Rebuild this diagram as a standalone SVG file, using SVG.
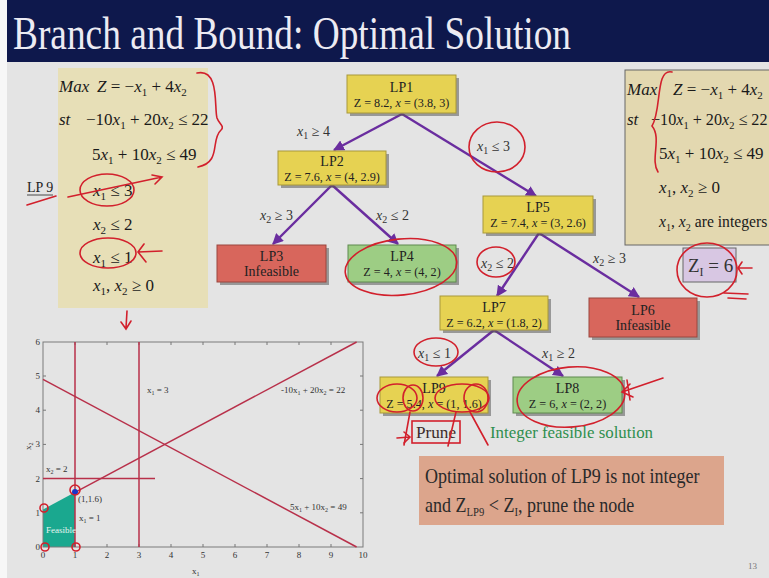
<svg xmlns="http://www.w3.org/2000/svg" width="769" height="578" viewBox="0 0 769 578">
<defs>
<marker id="ah" viewBox="0 0 10 10" refX="9" refY="5" markerWidth="11" markerHeight="11" markerUnits="userSpaceOnUse" orient="auto"><path d="M0,0 L10,5 L0,10 z" fill="#6a2d9f"/></marker>
</defs>
<style>
.serif{font-family:"Liberation Serif","Times New Roman",serif}
.eq{font-family:"Liberation Serif",serif;font-size:17px;fill:#1a1a1a}
.i{font-style:italic}
.s{font-size:11px}
.nt{font-family:"Liberation Serif",serif;font-size:14px;fill:#222;text-anchor:middle}
.nz{font-family:"Liberation Serif",serif;font-size:12.2px;fill:#222;text-anchor:middle}
.el{font-family:"Liberation Serif",serif;font-size:14px;fill:#333}
.es{font-size:10px}
.sh{fill:#5a5a5a;opacity:0.55}
.ny{fill:#e6d252;stroke:#a8983a;stroke-width:1}
.nr{fill:#d8665c;stroke:#9a463e;stroke-width:1}
.ng{fill:#9dcd84;stroke:#5f8a4f;stroke-width:1}
.edge{stroke:#6a2d9f;stroke-width:2.4;fill:none;marker-end:url(#ah)}
.gl{stroke:#b8304a;stroke-width:1.5;fill:none}
.gt{font-family:"Liberation Serif",serif;font-size:9px;fill:#333}
.tk{stroke:#777;stroke-width:1}
.rd{stroke:#d2202c;stroke-width:1.6;fill:none;stroke-linecap:round}
</style>

<!-- background -->
<rect x="0" y="0" width="769" height="578" fill="#e4e4e4"/>
<rect x="0" y="0" width="7" height="578" fill="#f7f7f7"/>
<rect x="7" y="0" width="762" height="62" fill="#0e184c"/>
<text class="serif" x="13" y="49" font-size="46" fill="#ecebf3" textLength="558" lengthAdjust="spacingAndGlyphs">Branch and Bound: Optimal Solution</text>

<!-- left constraint box -->
<g id="lp9-constraints">
<rect x="58" y="68" width="150" height="240" fill="#e7dfb7"/>
<text class="eq i" x="59" y="92">Max</text>
<text class="eq" x="97" y="92"><tspan class="i">Z</tspan> = −<tspan class="i">x</tspan><tspan class="s" dy="4">1</tspan><tspan dy="-4"> + 4</tspan><tspan class="i">x</tspan><tspan class="s" dy="4">2</tspan></text>
<text class="eq i" x="59" y="125">st</text>
<text class="eq" x="86" y="125">−10<tspan class="i">x</tspan><tspan class="s" dy="4">1</tspan><tspan dy="-4"> + 20</tspan><tspan class="i">x</tspan><tspan class="s" dy="4">2</tspan><tspan dy="-4"> ≤ 22</tspan></text>
<text class="eq" x="92" y="160">5<tspan class="i">x</tspan><tspan class="s" dy="4">1</tspan><tspan dy="-4"> + 10</tspan><tspan class="i">x</tspan><tspan class="s" dy="4">2</tspan><tspan dy="-4"> ≤ 49</tspan></text>
<text class="eq" x="93" y="196"><tspan class="i">x</tspan><tspan class="s" dy="4">1</tspan><tspan dy="-4"> ≤ 3</tspan></text>
<text class="eq" x="93" y="230"><tspan class="i">x</tspan><tspan class="s" dy="4">2</tspan><tspan dy="-4"> ≤ 2</tspan></text>
<text class="eq" x="93" y="263"><tspan class="i">x</tspan><tspan class="s" dy="4">1</tspan><tspan dy="-4"> ≤ 1</tspan></text>
<text class="eq" x="93" y="291"><tspan class="i">x</tspan><tspan class="s" dy="4">1</tspan><tspan dy="-4">, </tspan><tspan class="i">x</tspan><tspan class="s" dy="4">2</tspan><tspan dy="-4"> ≥ 0</tspan></text>
</g>
<g id="lp9-label">
<text class="serif" x="27" y="192" font-size="14" fill="#222">LP 9</text>
<line x1="27" y1="195" x2="53" y2="195" stroke="#222" stroke-width="0.8"/>
</g>

<!-- right box -->
<g id="ip-problem">
<rect x="625" y="70" width="150" height="175" fill="#e3d8b0" stroke="#666" stroke-width="1"/>
<text class="eq i" x="627" y="95">Max</text>
<text class="eq" x="673" y="95"><tspan class="i">Z</tspan> = −<tspan class="i">x</tspan><tspan class="s" dy="4">1</tspan><tspan dy="-4"> + 4</tspan><tspan class="i">x</tspan><tspan class="s" dy="4">2</tspan></text>
<text class="eq i" x="627" y="125">st</text>
<g transform="translate(651,125) scale(0.95,1)">
<text class="eq" x="0" y="0">−10<tspan class="i">x</tspan><tspan class="s" dy="4">1</tspan><tspan dy="-4"> + 20</tspan><tspan class="i">x</tspan><tspan class="s" dy="4">2</tspan><tspan dy="-4"> ≤ 22</tspan></text>
</g>
<text class="eq" x="659" y="159">5<tspan class="i">x</tspan><tspan class="s" dy="4">1</tspan><tspan dy="-4"> + 10</tspan><tspan class="i">x</tspan><tspan class="s" dy="4">2</tspan><tspan dy="-4"> ≤ 49</tspan></text>
<text class="eq" x="659" y="193"><tspan class="i">x</tspan><tspan class="s" dy="4">1</tspan><tspan dy="-4">, </tspan><tspan class="i">x</tspan><tspan class="s" dy="4">2</tspan><tspan dy="-4"> ≥ 0</tspan></text>
<g transform="translate(659,227) scale(0.92,1)">
<text class="eq" x="0" y="0"><tspan class="i">x</tspan><tspan class="s" dy="4">1</tspan><tspan dy="-4">, </tspan><tspan class="i">x</tspan><tspan class="s" dy="4">2</tspan><tspan dy="-4"> are integers</tspan></text>
</g>
</g>

<g id="zi">
<rect x="683" y="248" width="53" height="34" fill="#d8c7e3" stroke="#666" stroke-width="1"/>
<text class="serif" x="688" y="272" font-size="19" fill="#333">Z<tspan font-size="12" dy="4">I</tspan><tspan dy="-4"> = 6</tspan></text>
</g>

<!-- connectors -->
<g id="connectors">
<path class="edge" d="M402,114 L334,150"/>
<path class="edge" d="M402,114 L536,196"/>
<path class="edge" d="M332,185 L273,244"/>
<path class="edge" d="M332,185 L398,244"/>
<path class="edge" d="M539,233 L497,296"/>
<path class="edge" d="M539,233 L639,297"/>
<path class="edge" d="M494,330 L437,376"/>
<path class="edge" d="M494,330 L563,376"/>
<text class="el" x="297" y="136"><tspan class="i">x</tspan><tspan class="es" dy="3">1</tspan><tspan dy="-3"> ≥ 4</tspan></text>
<text class="el" x="477" y="151"><tspan class="i">x</tspan><tspan class="es" dy="3">1</tspan><tspan dy="-3"> ≤ 3</tspan></text>
<text class="el" x="260" y="220"><tspan class="i">x</tspan><tspan class="es" dy="3">2</tspan><tspan dy="-3"> ≥ 3</tspan></text>
<text class="el" x="376" y="220"><tspan class="i">x</tspan><tspan class="es" dy="3">2</tspan><tspan dy="-3"> ≤ 2</tspan></text>
<text class="el" x="481" y="268"><tspan class="i">x</tspan><tspan class="es" dy="3">2</tspan><tspan dy="-3"> ≤ 2</tspan></text>
<text class="el" x="593" y="263"><tspan class="i">x</tspan><tspan class="es" dy="3">2</tspan><tspan dy="-3"> ≥ 3</tspan></text>
<text class="el" x="418" y="358"><tspan class="i">x</tspan><tspan class="es" dy="3">1</tspan><tspan dy="-3"> ≤ 1</tspan></text>
<text class="el" x="542" y="358"><tspan class="i">x</tspan><tspan class="es" dy="3">1</tspan><tspan dy="-3"> ≥ 2</tspan></text>
</g>

<!-- nodes -->
<g id="lp1">
<rect class="sh" x="350" y="78" width="109" height="38"/>
<rect class="ny" x="347" y="75" width="109" height="38"/>
<text class="nt" x="401.5" y="92">LP1</text>
<text class="nz" x="401.5" y="107">Z = 8.2, <tspan class="i">x</tspan> = (3.8, 3)</text>
</g>
<g id="lp2">
<rect class="sh" x="281" y="154" width="108" height="34"/>
<rect class="ny" x="278" y="151" width="108" height="34"/>
<text class="nt" x="332" y="166">LP2</text>
<text class="nz" x="332" y="181">Z = 7.6, <tspan class="i">x</tspan> = (4, 2.9)</text>
</g>
<g id="lp3">
<rect class="sh" x="220" y="248" width="109" height="37"/>
<rect class="nr" x="217" y="245" width="109" height="37"/>
<text class="nt" x="271.5" y="261">LP3</text>
<text class="nt" x="271.5" y="276">Infeasible</text>
</g>
<g id="lp4">
<rect class="sh" x="351" y="248" width="108" height="37"/>
<rect class="ng" x="348" y="245" width="108" height="37"/>
<text class="nt" x="402" y="261">LP4</text>
<text class="nz" x="402" y="276">Z = 4, <tspan class="i">x</tspan> = (4, 2)</text>
</g>
<g id="lp5">
<rect class="sh" x="486" y="199" width="110" height="37"/>
<rect class="ny" x="483" y="196" width="110" height="37"/>
<text class="nt" x="538" y="212">LP5</text>
<text class="nz" x="538" y="227">Z = 7.4, <tspan class="i">x</tspan> = (3, 2.6)</text>
</g>
<g id="lp6">
<rect class="sh" x="592" y="301" width="108" height="39"/>
<rect class="nr" x="589" y="298" width="108" height="39"/>
<text class="nt" x="643" y="315">LP6</text>
<text class="nt" x="643" y="330">Infeasible</text>
</g>
<g id="lp7">
<rect class="sh" x="443" y="299" width="108" height="34"/>
<rect class="ny" x="440" y="296" width="108" height="34"/>
<text class="nt" x="494" y="312">LP7</text>
<text class="nz" x="494" y="327">Z = 6.2, <tspan class="i">x</tspan> = (1.8, 2)</text>
</g>
<g id="lp9">
<rect class="sh" x="383" y="380" width="108" height="36"/>
<rect class="ny" x="380" y="377" width="108" height="36"/>
<text class="nt" x="434" y="393">LP9</text>
<text class="nz" x="434" y="408">Z = 5.4, <tspan class="i">x</tspan> = (1, 1.6)</text>
</g>
<g id="lp8">
<rect class="sh" x="516" y="380" width="109" height="36"/>
<rect class="ng" x="513" y="377" width="109" height="36"/>
<text class="nt" x="567.5" y="393">LP8</text>
<text class="nz" x="567.5" y="408">Z = 6, <tspan class="i">x</tspan> = (2, 2)</text>
</g>

<g id="notes">
<text class="serif" x="416" y="438" font-size="17" fill="#3a2a2a" textLength="40" lengthAdjust="spacingAndGlyphs">Prune</text>
<text class="serif" x="490" y="438" font-size="17" fill="#2f8f4e" textLength="163" lengthAdjust="spacingAndGlyphs">Integer feasible solution</text>
</g>

<g id="conclusion">
<rect x="419" y="456" width="305" height="69" fill="#dca58c"/>
<g transform="translate(425,0) scale(0.82,1)">
<text class="serif" x="0" y="483" font-size="22" fill="#2a2a2a">Optimal solution of LP9 is not integer</text>
<text class="serif" x="0" y="512" font-size="22" fill="#2a2a2a">and Z<tspan font-size="13" dy="4">LP9</tspan><tspan dy="-4"> &lt; Z</tspan><tspan font-size="13" dy="4">I</tspan><tspan dy="-4">, prune the node</tspan></text>
</g>
</g>

<!-- graph -->
<g id="graph">
<polygon points="43,547 75,547 75,492.3 43,509.4" fill="#1aa88f"/>
<rect x="43" y="342" width="320" height="205" fill="none" stroke="#7a7a7a" stroke-width="1"/>
<path class="tk" d="M75,547v-3M107,547v-3M139,547v-3M171,547v-3M203,547v-3M235,547v-3M267,547v-3M299,547v-3M331,547v-3M75,342v3M107,342v3M139,342v3M171,342v3M203,342v3M235,342v3M267,342v3M299,342v3M331,342v3M43,512.8h3M43,478.6h3M43,444.4h3M43,410.2h3M43,376h3M363,512.8h-3M363,478.6h-3M363,444.4h-3M363,410.2h-3M363,376h-3"/>
<line class="gl" x1="75" y1="342" x2="75" y2="547"/>
<line class="gl" x1="139" y1="342" x2="139" y2="547"/>
<line class="gl" x1="43" y1="478.6" x2="155" y2="478.6"/>
<line class="gl" x1="75" y1="492.3" x2="356.6" y2="342"/>
<line class="gl" x1="43" y1="379.4" x2="356.6" y2="547"/>
<circle cx="75" cy="492" r="3" fill="#1a35c8"/>
<g class="gt">
<text x="43" y="558" text-anchor="middle">0</text>
<text x="75" y="558" text-anchor="middle">1</text>
<text x="107" y="558" text-anchor="middle">2</text>
<text x="139" y="558" text-anchor="middle">3</text>
<text x="171" y="558" text-anchor="middle">4</text>
<text x="203" y="558" text-anchor="middle">5</text>
<text x="235" y="558" text-anchor="middle">6</text>
<text x="267" y="558" text-anchor="middle">7</text>
<text x="299" y="558" text-anchor="middle">8</text>
<text x="331" y="558" text-anchor="middle">9</text>
<text x="363" y="558" text-anchor="middle">10</text>
<text x="40" y="550" text-anchor="end">0</text>
<text x="40" y="516" text-anchor="end">1</text>
<text x="40" y="482" text-anchor="end">2</text>
<text x="40" y="447" text-anchor="end">3</text>
<text x="40" y="413" text-anchor="end">4</text>
<text x="40" y="379" text-anchor="end">5</text>
<text x="40" y="345" text-anchor="end">6</text>
<text x="192" y="574">x<tspan font-size="6" dy="2">1</tspan></text>
<text transform="translate(31,450) rotate(-90)">x<tspan font-size="6" dy="2">2</tspan></text>
<text x="147" y="393">x<tspan font-size="6" dy="2">1</tspan><tspan dy="-2"> = 3</tspan></text>
<text x="281" y="393">-10x<tspan font-size="6" dy="2">1</tspan><tspan dy="-2"> + 20x</tspan><tspan font-size="6" dy="2">2</tspan><tspan dy="-2"> = 22</tspan></text>
<text x="290" y="510">5x<tspan font-size="6" dy="2">1</tspan><tspan dy="-2"> + 10x</tspan><tspan font-size="6" dy="2">2</tspan><tspan dy="-2"> = 49</tspan></text>
<text x="46" y="472">x<tspan font-size="6" dy="2">2</tspan><tspan dy="-2"> = 2</tspan></text>
<text x="78" y="502">(1,1.6)</text>
<text x="79" y="521">x<tspan font-size="6" dy="2">1</tspan><tspan dy="-2"> = 1</tspan></text>
<text x="46" y="533" fill="#e8f5f0">Feasible</text>
</g>
</g>

<text class="serif" x="748" y="569" font-size="9" fill="#777">13</text>

<!-- hand-drawn annotations -->
<g id="annotations" class="rd">
<path d="M197,73 C220,68 214,108 217,118 C219,124 225,126 221,130 C210,140 222,162 198,167"/>
<path d="M27,205 L56,196"/>
<ellipse cx="107" cy="190" rx="27" ry="16"/>
<path d="M68,197 C100,190 130,184 162,177 M152,175 L162,177 L155,184"/>
<ellipse cx="108" cy="253" rx="28" ry="15"/>
<path d="M162,251 L138,252 M144,244 L138,252 L146,262"/>
<path d="M127,311 L126,328 M121,322 L126,329 L131,321"/>
<ellipse cx="497" cy="147" rx="28" ry="25"/>
<ellipse cx="401" cy="267" rx="56" ry="28" transform="rotate(-6 401 267)"/>
<ellipse cx="496" cy="262" rx="19" ry="15"/>
<ellipse cx="436" cy="352" rx="22" ry="14"/>
<ellipse cx="397" cy="398" rx="20" ry="14"/>
<ellipse cx="413" cy="398" rx="10" ry="13"/>
<ellipse cx="462" cy="398" rx="27" ry="14"/>
<ellipse cx="476" cy="398" rx="12" ry="14"/>
<path d="M410,412 L404,445 M456,412 L448,446 M470,412 L488,445"/>
<rect x="412" y="421" width="48" height="22"/>
<path d="M397,438 L410,437 M404,432 L410,437 L404,443"/>
<ellipse cx="571" cy="397" rx="54" ry="30" transform="rotate(-5 571 397)"/>
<path d="M663,378 L622,392 M630,384 L622,392 L633,397 M627,380 L630,400"/>
<ellipse cx="707" cy="270" rx="30" ry="27"/>
<path d="M752,268 L738,268 M742,262 L738,268 L742,274 M724,293 L748,294 M728,298 L746,299"/>
<path d="M672,72 C655,68 662,110 652,126 C662,138 650,160 658,172"/>
<circle cx="44" cy="508" r="4"/>
<circle cx="45" cy="547" r="4"/>
<circle cx="76" cy="547" r="4"/>
<circle cx="75" cy="490" r="5"/>
</g>
</svg>
